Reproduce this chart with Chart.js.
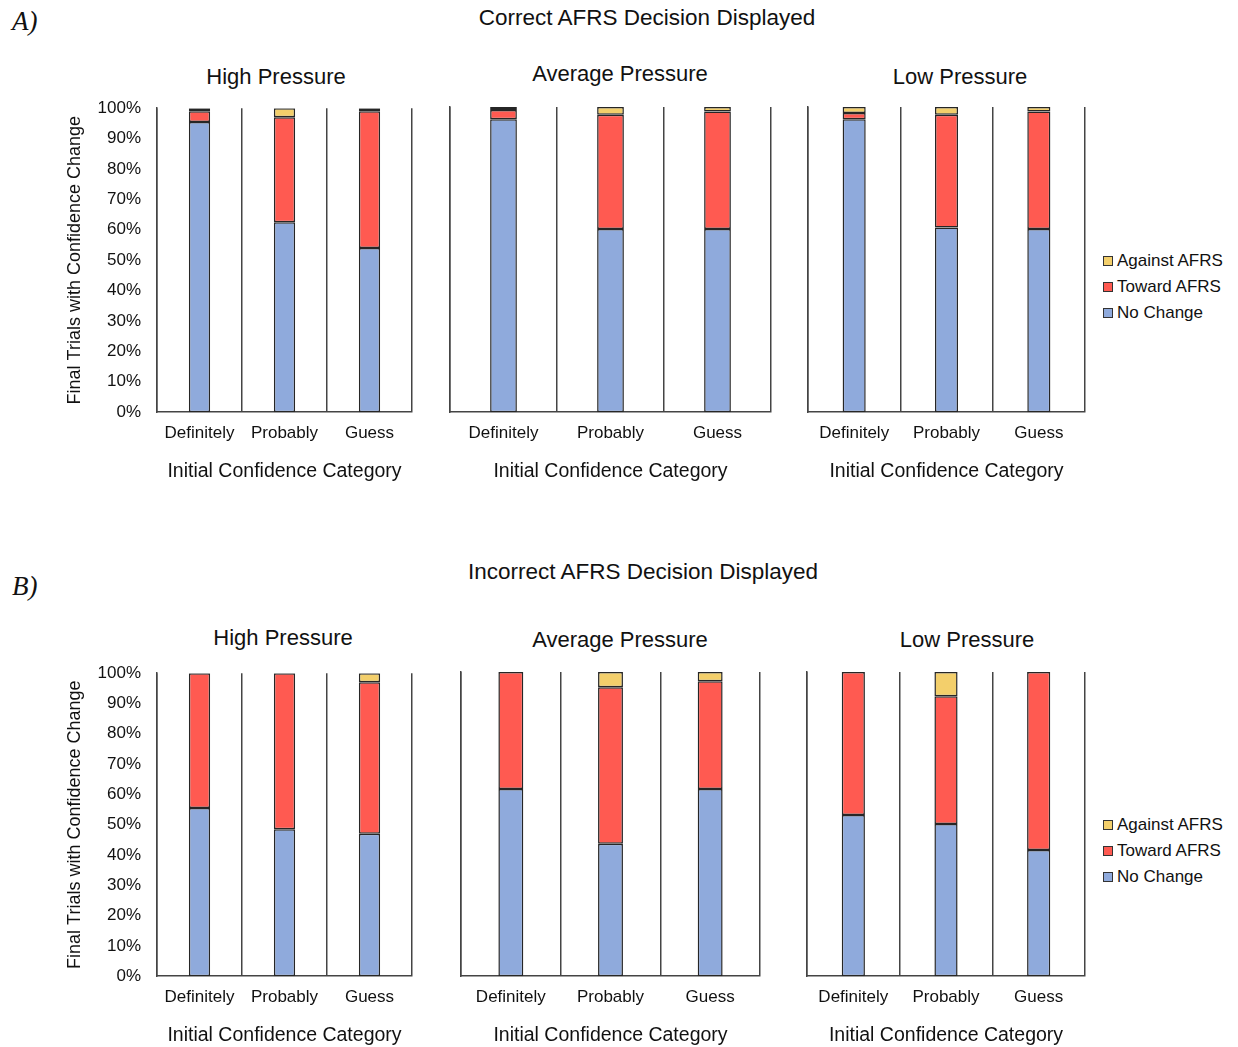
<!DOCTYPE html>
<html>
<head>
<meta charset="utf-8">
<script src="https://cdn.jsdelivr.net/npm/chart.js@4/dist/chart.umd.min.js"></script>
<style>
  body { margin: 0; background: #fff; }
  #fig { position: relative; width: 1238px; height: 1047px; overflow: hidden;
         font-family: "Liberation Sans", Arial, sans-serif; color: #111; }
  #fig canvas { position: absolute; }
  .lbl { position: absolute; transform: translate(-50%, -50%); white-space: nowrap; }
  .tag { position: absolute; font-family: "Liberation Serif", serif; font-style: italic; font-size: 27px; }
  .legend { position: absolute; font-size: 17px; }
  .legend div { height: 26px; display: flex; align-items: center; }
  .legend .sw { width: 10px; height: 10px; border: 1px solid #333; margin-right: 4px; box-sizing: border-box; }
</style>
</head>
<body>
<div id="fig"></div>
<script>
// categories and series
const categories = ['Definitely', 'Probably', 'Guess'];
const seriesNames = ['No Change', 'Toward AFRS', 'Against AFRS'];
const seriesColors = ['#8FAADC', '#FF5A51', '#F3CF6B'];
const panelTitles = ['High Pressure', 'Average Pressure', 'Low Pressure'];
const rowTitles = ['Correct AFRS Decision Displayed', 'Incorrect AFRS Decision Displayed'];
const xTitle = 'Initial Confidence Category';
const yTitle = 'Final Trials with Confidence Change';

// A) correct AFRS decision (% of trials)
const aHighNoChange = [95.5, 62.5, 54];
const aHighToward   = [3.5, 34.5, 45];
const aHighAgainst  = [1, 3, 1];
const aAvgNoChange  = [96, 60, 60];
const aAvgToward    = [3, 37.5, 38.5];
const aAvgAgainst   = [1, 2.5, 1.5];
const aLowNoChange  = [96, 60.5, 60];
const aLowToward    = [2, 37, 38.5];
const aLowAgainst   = [2, 2.5, 1.5];

// B) incorrect AFRS decision (% of trials)
const bHighNoChange = [55.5, 48.5, 47];
const bHighToward   = [44.5, 51.5, 50];
const bHighAgainst  = [0, 0, 3];
const bAvgNoChange  = [61.5, 43.5, 61.5];
const bAvgToward    = [38.5, 51.5, 35.5];
const bAvgAgainst   = [0, 5, 3];
const bLowNoChange  = [53, 50, 41.5];
const bLowToward    = [47, 42, 58.5];
const bLowAgainst   = [0, 8, 0];

Chart.defaults.font.family = "'Liberation Sans', Arial, sans-serif";
Chart.defaults.color = '#111';

const fig = document.getElementById('fig');

function addText(cls, text, x, y, size) {
  const d = document.createElement('div');
  d.className = cls;
  d.textContent = text;
  d.style.left = x + 'px';
  d.style.top = y + 'px';
  if (size) d.style.fontSize = size + 'px';
  fig.appendChild(d);
}

function addLegend(x, y) {
  const box = document.createElement('div');
  box.className = 'legend';
  box.style.left = x + 'px';
  box.style.top = y + 'px';
  for (let i = seriesNames.length - 1; i >= 0; i--) {
    const row = document.createElement('div');
    const sw = document.createElement('span');
    sw.className = 'sw';
    sw.style.background = seriesColors[i];
    row.appendChild(sw);
    row.appendChild(document.createTextNode(seriesNames[i]));
    box.appendChild(row);
  }
  fig.appendChild(box);
}

function panel(left, top, width, height, showY, series) {
  const c = document.createElement('canvas');
  c.width = width; c.height = height;
  c.style.left = left + 'px'; c.style.top = top + 'px';
  fig.appendChild(c);
  new Chart(c, {
    type: 'bar',
    data: {
      labels: categories,
      datasets: series.map((d, i) => ({
        label: seriesNames[i],
        data: d,
        backgroundColor: seriesColors[i],
        borderColor: '#262626',
        borderWidth: 1.5,
        borderSkipped: false,
        barPercentage: 0.25,
        categoryPercentage: 1
      }))
    },
    options: {
      responsive: false,
      animation: false,
      devicePixelRatio: 1,
      layout: { padding: { top: showY ? 0 : 12, right: 3, left: showY ? 0 : 3, bottom: 0 } },
      plugins: { legend: { display: false }, tooltip: { enabled: false } },
      scales: {
        x: {
          stacked: true,
          offset: true,
          grid: { display: true, offset: true, drawTicks: false, color: '#444', lineWidth: 1.5 },
          border: { display: true, color: '#444', width: 1.5 },
          ticks: { font: { size: 17 }, padding: 11, maxRotation: 0 },
          title: { display: true, text: xTitle, font: { size: 19.5 }, padding: { top: 5, bottom: 2 } }
        },
        y: {
          stacked: true,
          min: 0, max: 100,
          grid: { display: false, drawTicks: false },
          border: { display: true, color: '#444', width: 1.5 },
          ticks: { display: showY, stepSize: 10, callback: v => v + '%', font: { size: 17 }, padding: 16 },
          title: { display: showY, text: yTitle, font: { size: 18 }, padding: { top: 4 } },
          afterFit: s => { s.width = showY ? 97 : 0; }
        }
      }
    }
  });
}

// row A
addText('tag', 'A)', 12, 6);
addText('lbl', rowTitles[0], 647, 18, 22.5);
addText('lbl', panelTitles[0], 276, 77, 22);
addText('lbl', panelTitles[1], 620, 74, 22);
addText('lbl', panelTitles[2], 960, 77, 22);
panel(60, 82, 355, 403, true, [aHighNoChange, aHighToward, aHighAgainst]);
panel(447, 95, 327, 390, false, [aAvgNoChange, aAvgToward, aAvgAgainst]);
panel(805, 95, 283, 390, false, [aLowNoChange, aLowToward, aLowAgainst]);
addLegend(1103, 248);

// row B
addText('tag', 'B)', 12, 571);
addText('lbl', rowTitles[1], 643, 572, 22.5);
addText('lbl', panelTitles[0], 283, 638, 22);
addText('lbl', panelTitles[1], 620, 640, 22);
addText('lbl', panelTitles[2], 967, 640, 22);
panel(60, 647, 355, 402, true, [bHighNoChange, bHighToward, bHighAgainst]);
panel(458, 660, 305, 389, false, [bAvgNoChange, bAvgToward, bAvgAgainst]);
panel(804, 660, 284, 389, false, [bLowNoChange, bLowToward, bLowAgainst]);
addLegend(1103, 812);
</script>
</body>
</html>
